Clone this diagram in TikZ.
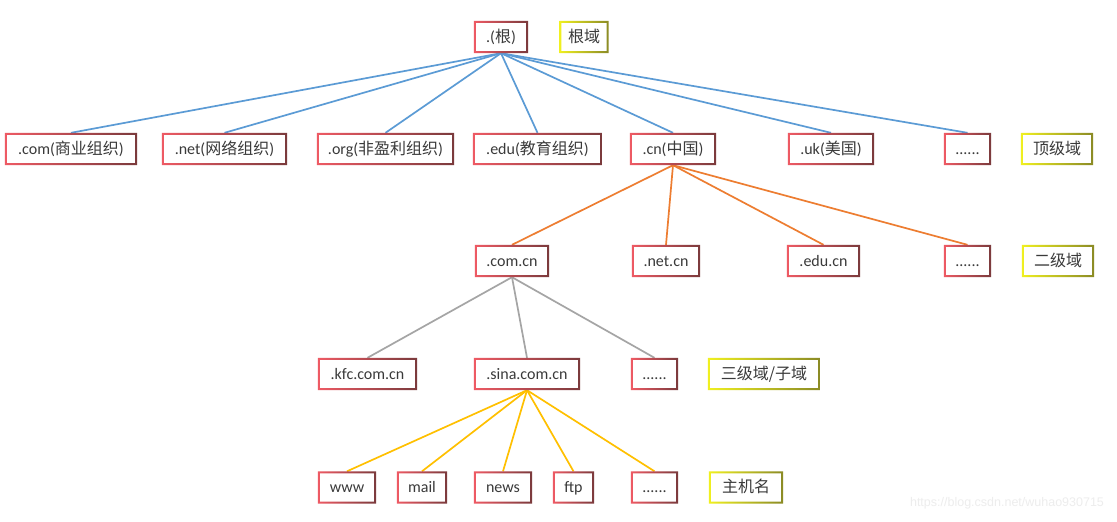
\documentclass[tikz,border=0pt]{standalone}
\usepackage{fontspec}
\setmainfont{Carlito}
\newfontfamily\cjk{Noto Sans CJK SC}
\newfontfamily\wmfont{Liberation Sans}
\definecolor{txt}{HTML}{3A3A3A}
\definecolor{redL}{HTML}{EE5A64}
\definecolor{redD}{HTML}{7A3A3C}
\definecolor{yelL}{HTML}{F0F020}
\definecolor{yelD}{HTML}{8A8A25}
\definecolor{lblue}{HTML}{5B9BD5}
\definecolor{lorange}{HTML}{ED7D31}
\definecolor{lgray}{HTML}{A5A5A5}
\definecolor{lgold}{HTML}{FFC000}
\newcommand\myframedbox[3]{%
  \shade[left color=#2, middle color=#2!75!#3, right color=#3, even odd rule]
    (#1.south west) rectangle (#1.north east)
    ([xshift=2pt,yshift=2pt]#1.south west) rectangle ([xshift=-2pt,yshift=-2pt]#1.north east);}
\newcommand\sixdots{{.}{.}{.}{.}{.}{.}}
\begin{document}
\begin{tikzpicture}[x=1pt,y=-1pt,
  font=\fontsize{16}{18}\selectfont,
  bx/.style={inner sep=0pt, minimum height=32pt, text=txt, fill=white, text height=13pt, text depth=2.5pt},
  conn/.style={line width=1.7pt},
  blu/.style={conn, draw=lblue},
  org/.style={conn, draw=lorange},
  gry/.style={conn, draw=lgray},
  gld/.style={conn, draw=lgold}]
\useasboundingbox (0,0) rectangle (1117,522);
\fill[white] (0,0) rectangle (1117,522);

% level 0
\node[bx, minimum width=54pt] (root) at (501,37) {.({\cjk 根})};
\node[bx, minimum width=49pt] (lab0) at (584,37) {\cjk 根域};

% level 1
\node[bx, minimum width=132pt] (com) at (71,149) {.com({\cjk 商业组织})};
\node[bx, minimum width=125pt] (net) at (224.5,149) {.net({\cjk 网络组织})};
\node[bx, minimum width=137pt] (orgn) at (385.5,149) {.org({\cjk 非盈利组织})};
\node[bx, minimum width=129pt] (edu) at (537.5,149) {.edu({\cjk 教育组织})};
\node[bx, minimum width=86pt] (cn) at (673,149) {.cn({\cjk 中国})};
\node[bx, minimum width=86pt] (uk) at (831,149) {.uk({\cjk 美国})};
\node[bx, minimum width=47pt] (dots1) at (967.5,149) {\sixdots};
\node[bx, minimum width=72pt] (lab1) at (1057,149) {\cjk 顶级域};

% level 2
\node[bx, minimum width=74pt] (comcn) at (512,261) {.com.cn};
\node[bx, minimum width=68pt] (netcn) at (666,261) {.net.cn};
\node[bx, minimum width=73pt] (educn) at (823.5,261) {.edu.cn};
\node[bx, minimum width=47pt] (dots2) at (967.5,261) {\sixdots};
\node[bx, minimum width=72pt] (lab2) at (1058,261) {\cjk 二级域};

% level 3
\node[bx, minimum width=99pt] (kfc) at (367.5,374) {.kfc.com.cn};
\node[bx, minimum width=106pt] (sina) at (527,374) {.sina.com.cn};
\node[bx, minimum width=47pt] (dots3) at (654.5,374) {\sixdots};
\node[bx, minimum width=112pt] (lab3) at (764,374) {\cjk 三级域/子域};

% level 4
\node[bx, minimum width=58pt] (www) at (347,487.5) {www};
\node[bx, minimum width=50pt] (mail) at (422,487.5) {mail};
\node[bx, minimum width=58pt] (news) at (503,487.5) {news};
\node[bx, minimum width=41pt] (ftp) at (573.5,487.5) {ftp};
\node[bx, minimum width=47pt] (dots4) at (654.5,487.5) {\sixdots};
\node[bx, minimum width=74pt] (lab4) at (746,487.5) {\cjk 主机名};

% connectors
\foreach \n in {com,net,orgn,edu,cn,uk,dots1}
  \draw[blu] (root.south) -- (\n.north);
\foreach \n in {comcn,netcn,educn,dots2}
  \draw[org] (cn.south) -- (\n.north);
\foreach \n in {kfc,sina,dots3}
  \draw[gry] (comcn.south) -- (\n.north);
\foreach \n in {www,mail,news,ftp,dots4}
  \draw[gld] (sina.south) -- (\n.north);

% frames
\foreach \n in {root,com,net,orgn,edu,cn,uk,dots1,comcn,netcn,educn,dots2,kfc,sina,dots3,www,mail,news,ftp,dots4}
  {\myframedbox{\n}{redL}{redD}}
\foreach \n in {lab0,lab1,lab2,lab3,lab4}
  {\myframedbox{\n}{yelL}{yelD}}

% watermark
\node[text=black!7, font=\wmfont\fontsize{12.5}{14}\selectfont, inner sep=0pt] (wm) at (1007,503) {https://blog.csdn.net/wuhao930715};
\end{tikzpicture}
\end{document}
